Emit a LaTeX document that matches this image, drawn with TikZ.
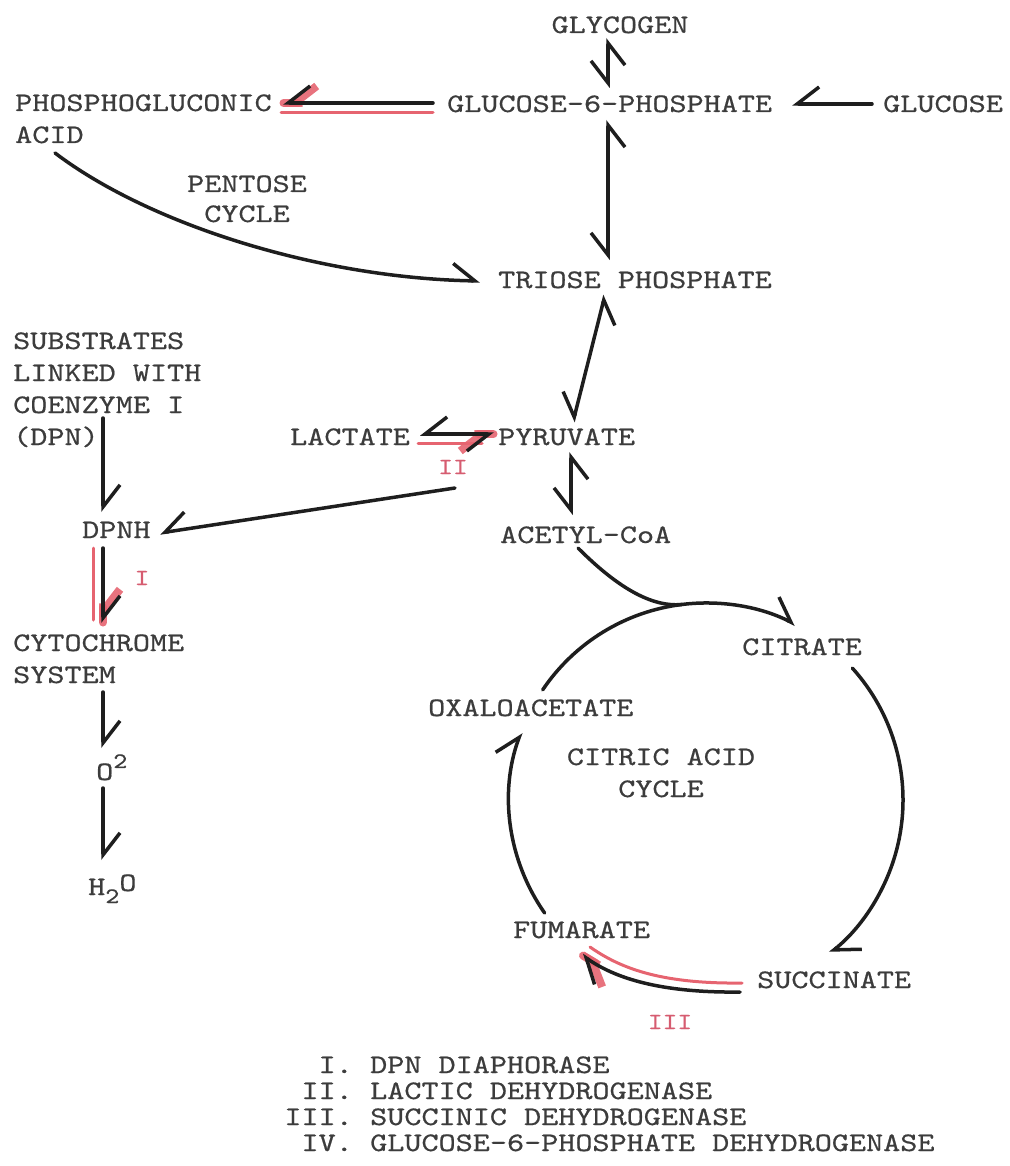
\documentclass[tikz,border=0pt]{standalone}
\usepackage{fontspec}
\usepackage{graphicx}
\newfontfamily\tw{lmmono10-regular.otf}[FakeStretch=1.22,FakeBold=0.6]
\usetikzlibrary{arrows.meta,calc}
\definecolor{ink}{RGB}{30,30,30}
\definecolor{txt}{RGB}{60,60,60}
\definecolor{rl}{RGB}{230,100,112}
\definecolor{rt}{RGB}{214,92,112}
\tikzset{
  bR/.tip={Straight Barb[harpoon,swap,length=22pt,width=34pt]},
  bL/.tip={Straight Barb[harpoon,length=22pt,width=34pt]},
  lbl/.style={font=\tw\fontsize{26.7}{32}\selectfont, text=txt, inner sep=0pt},
  rlbl/.style={font=\tw\fontsize{23}{28}\selectfont, text=rt, inner sep=0pt},
  ln/.style={draw=ink, line width=3.5pt, line cap=round},
  rln/.style={draw=rl, line width=3pt, line cap=round},
  rtip/.style={draw=rl, line width=8pt, line cap=round, opacity=0.9},
}
\begin{document}
\begin{tikzpicture}[x=1pt,y=-1pt]
\useasboundingbox (0,0) rectangle (1009,1166);
% ---------- text nodes ----------
\node[lbl, anchor=base] (glycogen) at (620,33) {GLYCOGEN};
\node[lbl, anchor=base west] (pga1) at (15,111) {PHOSPHOGLUCONIC};
\node[lbl, anchor=base west] (pga2) at (15,143) {ACID};
\node[lbl, anchor=base west] (g6p) at (447,112) {GLUCOSE-6-PHOSPHATE};
\node[lbl, anchor=base west] (glucose) at (883,112) {GLUCOSE};
\node[lbl, anchor=base] (pent1) at (247,192) {PENTOSE};
\node[lbl, anchor=base] (pent2) at (247,222) {CYCLE};
\node[lbl, anchor=base west] (triose) at (498,288) {TRIOSE PHOSPHATE};
\node[lbl, anchor=base west] (sub1) at (13,349) {SUBSTRATES};
\node[lbl, anchor=base west] (sub2) at (13,381) {LINKED WITH};
\node[lbl, anchor=base west] (sub3) at (13,413) {COENZYME I};
\node[lbl, anchor=base west] (sub4) at (13,445) {(DPN)};
\node[lbl, anchor=base west] (lactate) at (290,445) {LACTATE};
\node[lbl, anchor=base west] (pyruvate) at (498,445) {PYRUVATE};
\node[rlbl] (lII) at (453,467) {II};
\node[lbl, anchor=base west] (dpnh) at (82,538) {DPNH};
\node[lbl, anchor=base west] (acetyl) at (500,543) {ACETYL-CoA};
\node[rlbl] (lI) at (142,578) {I};
\node[lbl, anchor=base west] (cyt1) at (13,651) {CYTOCHROME};
\node[lbl, anchor=base west] (cyt2) at (13,683) {SYSTEM};
\node[lbl, anchor=base west] (citrate) at (742,655) {CITRATE};
\node[lbl, anchor=base west] (oxalo) at (428,716) {OXALOACETATE};
\node[lbl, anchor=base] (cac1) at (661,765) {CITRIC ACID};
\node[lbl, anchor=base] (cac2) at (661,797) {CYCLE};
\node[lbl, anchor=base west] (o2) at (96,780) {O\raisebox{0.45em}{\fontsize{22}{22}\selectfont 2}};
\node[lbl, anchor=base west] (h2o) at (88,895) {H\raisebox{-0.3em}{\fontsize{22}{22}\selectfont 2}\raisebox{0.15em}{O}};
\node[lbl, anchor=base west] (fumarate) at (513,938) {FUMARATE};
\node[lbl, anchor=base west] (succinate) at (757,988) {SUCCINATE};
\node[rlbl] (lIII) at (670,1022) {III};
% legend
\node[lbl, anchor=base east] (n1) at (353,1073) {I.};
\node[lbl, anchor=base west] (t1) at (370,1073) {DPN DIAPHORASE};
\node[lbl, anchor=base east] (n2) at (353,1099) {II.};
\node[lbl, anchor=base west] (t2) at (370,1099) {LACTIC DEHYDROGENASE};
\node[lbl, anchor=base east] (n3) at (353,1125) {III.};
\node[lbl, anchor=base west] (t3) at (370,1125) {SUCCINIC DEHYDROGENASE};
\node[lbl, anchor=base east] (n4) at (353,1151) {IV.};
\node[lbl, anchor=base west] (t4) at (370,1151) {GLUCOSE-6-PHOSPHATE DEHYDROGENASE};
% ---------- connector end points ----------
\coordinate (gyA) at (608,88);  \coordinate (gyB) at (608,38);
\coordinate (guA) at (872,104); \coordinate (guB) at (792,104);
\coordinate (gtA) at (608,120); \coordinate (gtB) at (608,260);
\coordinate (ivA) at (433,103); \coordinate (ivB) at (283,103);
\coordinate (peA) at (55,153);  \coordinate (peB) at (480,281);
\coordinate (tpA) at (605,295); \coordinate (tpB) at (573,422);
\coordinate (paA) at (571,452); \coordinate (paB) at (571,515);
\coordinate (lpA) at (420,434); \coordinate (lpB) at (494,434);
\coordinate (ddA) at (455,488); \coordinate (ddB) at (160,533);
\coordinate (sdA) at (103,418); \coordinate (sdB) at (103,512);
\coordinate (dcA) at (103,548); \coordinate (dcB) at (103,623);
\coordinate (coA) at (103,692); \coordinate (coB) at (103,748);
\coordinate (ohA) at (103,788); \coordinate (ohB) at (103,860);
\coordinate (sfA) at (740,992); \coordinate (sfB) at (582,955);
\coordinate (C) at (706,800);
\coordinate (merge) at ($(C)+(97:197pt)$);
\coordinate (oxA) at ($(C)+(146:197pt)$);
\coordinate (ciA) at ($(C)+(42:197pt)$);
\coordinate (fuA) at ($(C)+(215:197pt)$);
\coordinate (acA) at (578,548);
% ---------- red highlights (under) ----------
\draw[rln] (281,113) -- (433,113);
\draw[rtip, -{bR}] ($(ivB)+(0.5,0)$) -- (ivB);
\draw[rln] (418,443) -- (482,443);
\draw[rtip, -{bR}] ($(lpB)+(-0.5,0)$) -- (lpB);
\draw[rln] (93,548) -- (93,620);
\draw[rtip, -{bL}] ($(dcB)+(0,-0.5)$) -- (dcB);
\draw[rln] (742,983) .. controls (660,984) and (620,968) .. (590,947);
\draw[rtip, -{bL}] ($(sfB)+(1,0.6)$) -- (sfB);
% ---------- black connectors ----------
\draw[ln, {bR}-{bR}] (gyA) -- (gyB);
\draw[ln, -{bR}] (guA) -- (guB);
\draw[ln, {bR}-{bR}] (gtA) -- (gtB);
\draw[ln, -{bR}] (ivA) -- (ivB);
\draw[ln, -{bL}] (peA) .. controls (150,225) and (320,278) .. (peB);
\draw[ln, {bR}-{bR}] (tpA) -- (tpB);
\draw[ln, {bR}-{bR}] (paA) -- (paB);
\draw[ln, {bR}-{bR}] (lpA) -- (lpB);
\draw[ln, -{bR}] (ddA) -- (ddB);
\draw[ln, -{bL}] (sdA) -- (sdB);
\draw[ln, -{bL}] (dcA) -- (dcB);
\draw[ln, -{bL}] (coA) -- (coB);
\draw[ln, -{bL}] (ohA) -- (ohB);
\draw[ln, -{bL}] (sfA) .. controls (660,993) and (615,978) .. (sfB);
% citric acid cycle
\draw[ln] (oxA) arc[start angle=146, end angle=97, radius=197pt];
\draw[ln, -{bL}] (acA) .. controls (610,580) and (647,608) .. (merge)
   arc[start angle=97, end angle=63, radius=197pt];
\draw[ln, -{bL}] (ciA) arc[start angle=42, end angle=-51, radius=197pt];
\draw[ln, -{bL}] (fuA) arc[start angle=215, end angle=160, radius=197pt];
\end{tikzpicture}
\end{document}
